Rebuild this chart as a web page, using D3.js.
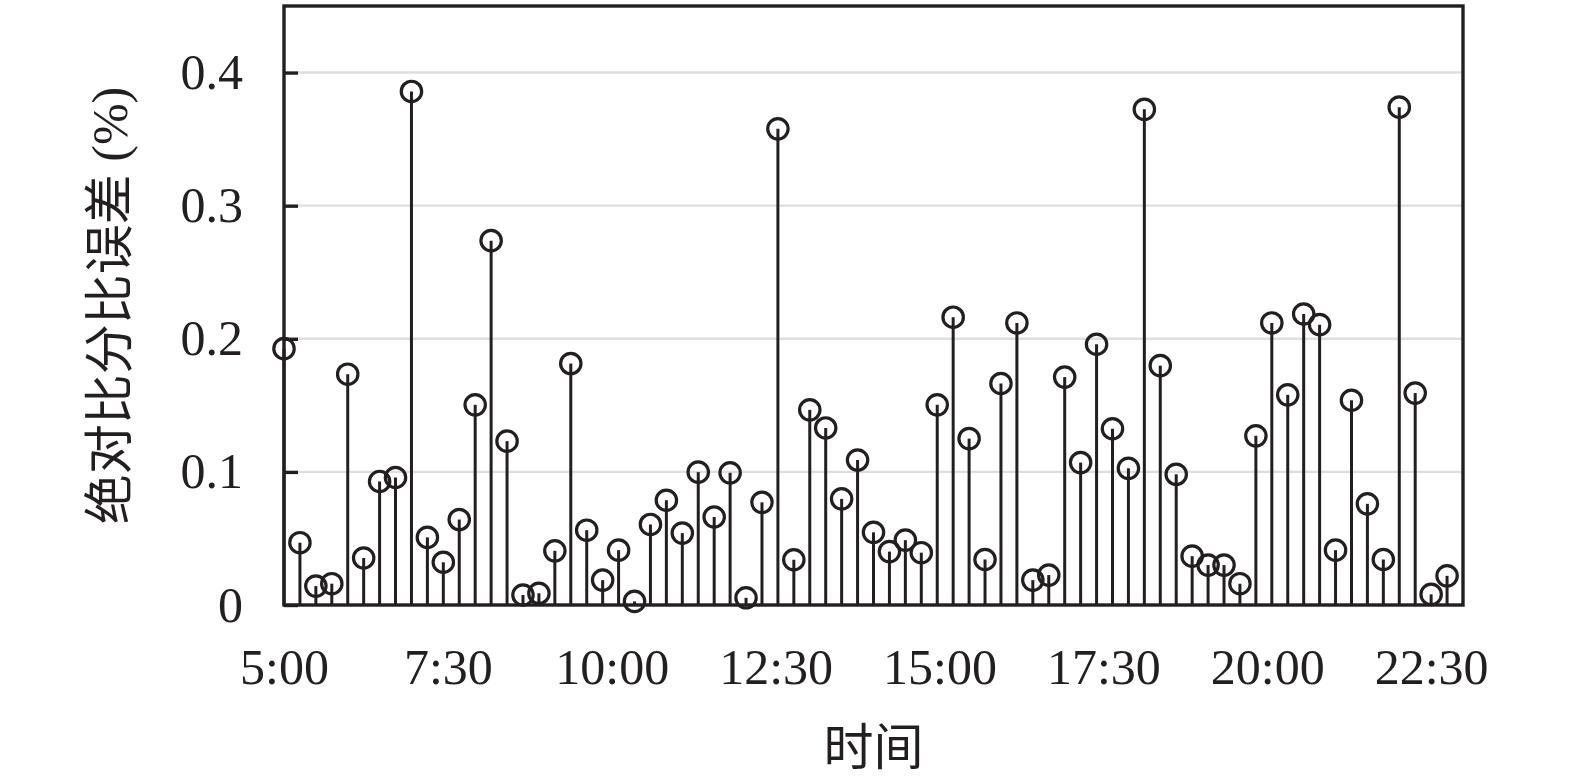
<!DOCTYPE html>
<html>
<head>
<meta charset="utf-8">
<script src="https://cdn.jsdelivr.net/npm/d3@7"></script>
<style>
  html, body { margin: 0; padding: 0; background: #fff; }
  svg { display: block; }
</style>
</head>
<body>
<svg id="chart" width="1575" height="779"></svg>
<script>
// ---- data ----
const tickLabels = ["5:00", "7:30", "10:00", "12:30", "15:00", "17:30", "20:00", "22:30"];
const yTicks = [0, 0.1, 0.2, 0.3, 0.4];
const errors = [
  0.1926, 0.0468, 0.0142, 0.0160, 0.1734, 0.0353, 0.0928, 0.0958, 0.3858, 0.0508,
  0.0321, 0.0642, 0.1504, 0.2737, 0.1231, 0.0075, 0.0088, 0.0407, 0.1814, 0.0562,
  0.0187, 0.0412, 0.0027, 0.0605, 0.0787, 0.0540, 0.0998, 0.0661, 0.0993, 0.0054,
  0.0771, 0.3577, 0.0340, 0.1466, 0.1330, 0.0797, 0.1089, 0.0546, 0.0401, 0.0487,
  0.0393, 0.1504, 0.2162, 0.1250, 0.0342, 0.1664, 0.2119, 0.0187, 0.0225, 0.1712,
  0.1070, 0.1959, 0.1324, 0.1027, 0.3724, 0.1798, 0.0982, 0.0367, 0.0300, 0.0300,
  0.0160, 0.1271, 0.2119, 0.1579, 0.2186, 0.2106, 0.0412, 0.1538, 0.0760, 0.0342,
  0.3740, 0.1592, 0.0080, 0.0219
];
const xLabel = "时间";
const yLabel = "绝对比分比误差 (%)";

// ---- layout ----
const L = 284, R = 1463, T = 6, B = 605;
const ink = "#231f20";
const serif = "'Liberation Serif', 'Times New Roman', 'Noto Sans CJK SC', serif";
const svg = d3.select("#chart");

const x = d3.scaleLinear().domain([0, 74]).range([L, R]);
const y = d3.scaleLinear().domain([0, 0.45]).range([B, T]);

// grid lines
svg.append("g").selectAll("line")
  .data(yTicks.filter(d => d > 0))
  .join("line")
  .attr("x1", L + 14).attr("x2", R)
  .attr("y1", d => y(d)).attr("y2", d => y(d))
  .attr("stroke", "#dedede").attr("stroke-width", 2.4);

// stems
const idx = d3.range(errors.length);
svg.append("g").selectAll("line")
  .data(idx)
  .join("line")
  .attr("x1", i => x(i)).attr("x2", i => x(i))
  .attr("y1", y(0)).attr("y2", i => y(errors[i]))
  .attr("stroke", ink).attr("stroke-width", 3);

// markers
svg.append("g").selectAll("circle")
  .data(idx)
  .join("circle")
  .attr("cx", i => x(i)).attr("cy", i => y(errors[i]))
  .attr("r", 10.2)
  .attr("fill", "none").attr("stroke", ink).attr("stroke-width", 3.2);

// y axis
const yAxis = svg.append("g")
  .attr("transform", `translate(${L},0)`)
  .call(d3.axisLeft(y).tickValues(yTicks).tickSize(-14).tickPadding(41)
    .tickFormat(d => d === 0 ? "0" : d.toFixed(1)));
yAxis.select(".domain").remove();
yAxis.selectAll("line").attr("stroke", ink).attr("stroke-width", 3.4);
yAxis.selectAll("text").attr("fill", ink)
  .style("font-family", serif).style("font-size", "50px");

// x axis
const xAxis = svg.append("g")
  .attr("transform", `translate(0,${B})`)
  .call(d3.axisBottom(x).tickValues(d3.range(tickLabels.length).map(k => k * 72 / 7))
    .tickSize(0).tickPadding(43)
    .tickFormat((d, i) => tickLabels[i]));
xAxis.select(".domain").remove();
xAxis.selectAll("text").attr("fill", ink)
  .style("font-family", serif).style("font-size", "50px");

// box
svg.append("rect")
  .attr("x", L).attr("y", T).attr("width", R - L).attr("height", B - T)
  .attr("fill", "none").attr("stroke", ink).attr("stroke-width", 3.4);

// axis titles
svg.append("text")
  .attr("x", (L + R) / 2).attr("y", 748)
  .attr("text-anchor", "middle").attr("dominant-baseline", "central")
  .attr("fill", ink)
  .style("font-family", serif).style("font-size", "50px")
  .text(xLabel);

svg.append("text")
  .attr("transform", `translate(110,${(T + B) / 2}) rotate(-90)`)
  .attr("text-anchor", "middle").attr("dominant-baseline", "central")
  .attr("fill", ink)
  .style("font-family", serif).style("font-size", "50px")
  .text(yLabel);
</script>
</body>
</html>
